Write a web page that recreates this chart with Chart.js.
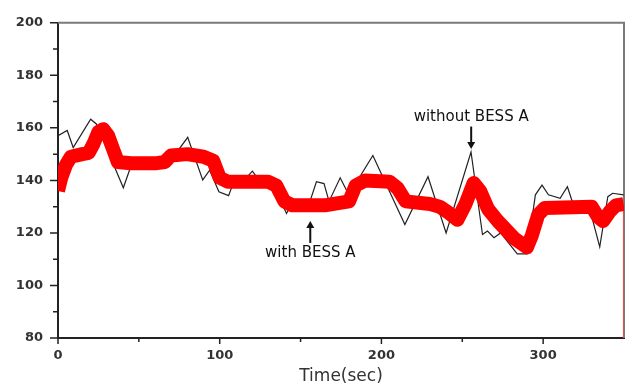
<!DOCTYPE html>
<html>
<head>
<meta charset="utf-8">
<script src="https://cdn.jsdelivr.net/npm/chart.js@4.4.1/dist/chart.umd.min.js"></script>
<style>
html, body { margin: 0; padding: 0; background: #fff; }
</style>
</head>
<body>
<canvas id="freqChart" width="634" height="385"></canvas>
<script>
// without BESS A (black thin line)
var timeWithout = [0, 5.7, 9.4, 20.2, 23.7, 40.4, 46, 55, 65, 72, 80.2, 89.5, 93.8, 99.5, 105.5, 109, 115, 120.2, 125, 132, 141.3, 144, 150, 155, 159.8, 164.5, 167.6, 174.5, 179.8, 194.7, 214.5, 228.8, 240, 255.4, 262.5, 265.6, 269.6, 273.7, 284, 290, 295.2, 299.3, 303.3, 310.5, 315, 318, 328, 335, 340, 343, 349.8];
var valWithout = [157, 159, 152.5, 163.3, 161.5, 137.2, 147, 146.5, 146.5, 149.5, 156.4, 140.2, 143.9, 135.7, 134.2, 140, 140, 143.5, 139.5, 139.5, 127.4, 130.5, 130.5, 130.5, 139.5, 138.8, 132, 141, 134.5, 149.5, 123.2, 141.4, 120, 150.8, 119.4, 120.7, 118.2, 120, 112, 112, 134.5, 138.2, 134.5, 133.2, 137.6, 132, 131, 114.7, 133.8, 135.1, 134.5];

// with BESS A (red noisy band, centre values)
var timeWith = [0, 2, 5, 8, 15, 19, 22, 25, 28, 31, 34, 37, 45, 60, 66, 70, 80, 90, 96, 100, 105, 130, 135, 140, 145, 165, 180, 184, 190, 205, 210, 215, 230, 236, 242, 247, 252, 257, 261, 266, 272, 282, 290, 293, 297, 301, 330, 334, 337, 341, 345, 349.8];
var valWith = [136, 141, 146, 149, 150, 150.5, 154, 158.5, 159.5, 157, 152, 147, 146.5, 146.5, 147, 149.5, 150, 149, 147.5, 141, 139.5, 139.5, 138, 132, 130.5, 130.5, 132, 138, 140, 139.5, 137, 132, 131, 130, 127.5, 125, 131, 139, 136, 129, 124.5, 118, 114.5, 119, 127, 129.5, 130, 126, 124.5, 128, 130.5, 131];

// end of the red trace dropping at the right edge
var edgeTime = [349.8, 349.8];
var edgeVal = [131, 80];

var xMajorTicks = [0, 100, 200, 300];
var xMinorTicks = [50, 150, 250];
var yMajorTicks = [80, 100, 120, 140, 160, 180, 200];
var yMinorTicks = [90, 110, 130, 150, 170, 190];

var notes = [
    { text: 'without BESS A', x: 255.5, textY: 164, tail: 160.5, head: 152 },
    { text: 'with BESS A', x: 156, textY: 112.3, tail: 116.2, head: 124.5 }
];

function toPoints(xs, ys) {
    return xs.map(function (t, i) { return { x: t, y: ys[i] }; });
}

var framePlugin = {
    id: 'frame',
    beforeDatasetsDraw: function (chart) {
        var ctx = chart.ctx, a = chart.chartArea;
        ctx.save();
        ctx.strokeStyle = '#7a7a7a';
        ctx.lineWidth = 2;
        ctx.beginPath();
        ctx.moveTo(a.left, a.top);
        ctx.lineTo(a.right, a.top);
        ctx.lineTo(a.right, a.bottom);
        ctx.stroke();
        ctx.restore();
    },
    afterDraw: function (chart) {
        var ctx = chart.ctx, a = chart.chartArea;
        var xs = chart.scales.x, ys = chart.scales.y;
        ctx.save();
        ctx.strokeStyle = '#222';
        ctx.lineWidth = 1.5;
        ctx.beginPath();
        yMajorTicks.forEach(function (v) {
            var p = ys.getPixelForValue(v);
            ctx.moveTo(a.left - 8, p); ctx.lineTo(a.left, p);
        });
        yMinorTicks.forEach(function (v) {
            var p = ys.getPixelForValue(v);
            ctx.moveTo(a.left - 5, p); ctx.lineTo(a.left, p);
        });
        xMajorTicks.forEach(function (v) {
            var p = xs.getPixelForValue(v);
            ctx.moveTo(p, a.bottom); ctx.lineTo(p, a.bottom + 6);
        });
        xMinorTicks.forEach(function (v) {
            var p = xs.getPixelForValue(v);
            ctx.moveTo(p, a.bottom); ctx.lineTo(p, a.bottom + 4);
        });
        ctx.stroke();

        // annotations
        ctx.fillStyle = '#111';
        ctx.strokeStyle = '#111';
        ctx.font = '15px "DejaVu Sans"';
        ctx.textAlign = 'center';
        ctx.textBaseline = 'middle';
        notes.forEach(function (n) {
            var px = xs.getPixelForValue(n.x);
            ctx.fillText(n.text, px, ys.getPixelForValue(n.textY));
            var y0 = ys.getPixelForValue(n.tail);
            var y1 = ys.getPixelForValue(n.head);
            var dir = y1 > y0 ? 1 : -1;
            ctx.lineWidth = 2;
            ctx.beginPath();
            ctx.moveTo(px, y0);
            ctx.lineTo(px, y1 - dir * 6);
            ctx.stroke();
            ctx.beginPath();
            ctx.moveTo(px, y1);
            ctx.lineTo(px - 4, y1 - dir * 7);
            ctx.lineTo(px + 4, y1 - dir * 7);
            ctx.closePath();
            ctx.fill();
        });
        ctx.restore();
    }
};

var ctx = document.getElementById('freqChart').getContext('2d');
new Chart(ctx, {
    type: 'line',
    data: {
        datasets: [{
            label: 'with BESS A',
            data: toPoints(timeWith, valWith),
            borderColor: '#ff0000',
            borderWidth: 14,
            borderJoinStyle: 'round',
            pointRadius: 0,
            tension: 0,
            clip: 0,
            order: 0
        }, {
            label: 'edge',
            data: toPoints(edgeTime, edgeVal),
            borderColor: '#d9534f',
            borderWidth: 1.5,
            pointRadius: 0,
            clip: 0,
            order: 0
        }, {
            label: 'without BESS A',
            data: toPoints(timeWithout, valWithout),
            borderColor: '#222',
            borderWidth: 1.2,
            pointRadius: 0,
            tension: 0,
            clip: 0,
            order: 1
        }]
    },
    options: {
        responsive: false,
        animation: false,
        layout: { autoPadding: false, padding: { top: 19, right: 5, left: 0, bottom: 0 } },
        plugins: {
            legend: { display: false },
            tooltip: { enabled: false }
        },
        scales: {
            x: {
                type: 'linear',
                min: 0,
                max: 350,
                grid: { display: false, drawTicks: false },
                border: { display: true, color: '#222', width: 2 },
                ticks: {
                    stepSize: 50,
                    includeBounds: false,
                    padding: 10,
                    color: '#333',
                    font: { family: 'DejaVu Sans', size: 13, weight: 'bold' },
                    maxRotation: 0,
                    callback: function (value) {
                        return value % 100 === 0 ? value : '';
                    }
                },
                title: {
                    display: true,
                    text: 'Time(sec)',
                    color: '#333',
                    padding: { top: 0, bottom: 0 },
                    font: { family: 'DejaVu Sans', size: 17, lineHeight: 1 }
                },
                afterFit: function (scale) { scale.height = 47; }
            },
            y: {
                min: 80,
                max: 200,
                grid: { display: false, drawTicks: false },
                border: { display: true, color: '#222', width: 2 },
                ticks: {
                    stepSize: 20,
                    padding: 15,
                    color: '#333',
                    font: { family: 'DejaVu Sans', size: 13, weight: 'bold' }
                },
                afterFit: function (scale) { scale.width = 58; }
            }
        }
    },
    plugins: [framePlugin]
});
</script>
</body>
</html>
